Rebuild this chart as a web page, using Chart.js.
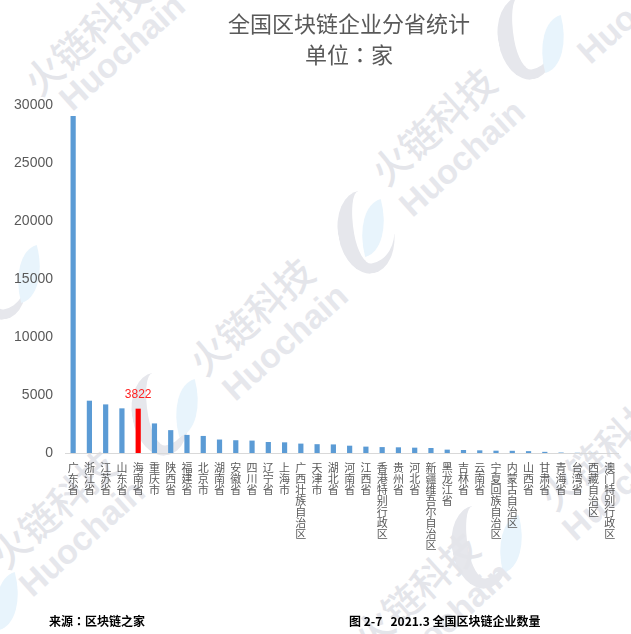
<!DOCTYPE html>
<html>
<head>
<meta charset="utf-8">
<script src="https://cdn.jsdelivr.net/npm/chart.js@4"></script>
<style>
  html, body { margin: 0; padding: 0; background: #fff; }
  #wrap { position: relative; width: 631px; height: 634px; overflow: hidden; font-family: "Noto Sans CJK SC", sans-serif; }
  #provChart { position: absolute; left: 0; top: 0; }
  .wm { position: absolute; white-space: nowrap; color: #e4e5ea; transform: translate(-50%, -50%) rotate(-42deg); }
  .wm.cn { font-size: 38px; font-weight: 500; font-family: "Noto Sans CJK SC", sans-serif; }
  .wm.en { font-size: 34px; font-weight: bold; font-family: "Liberation Sans", sans-serif; color: #e6e7ec; }
  .leaf { position: absolute; width: 30px; height: 52px; background: #e8f4fc; border-radius: 100% 0 100% 0; transform: rotate(-15deg); }
  .moon { position: absolute; width: 56px; height: 84px; border-radius: 50%; border-left: 16px solid #e6e7ec; border-bottom: 10px solid #e6e7ec; box-sizing: border-box; transform: rotate(-10deg); }
  .title { position: absolute; left: 149px; width: 400px; text-align: center; color: #595959; font-size: 22px; line-height: 30px; }
  .tc { font-family: "Noto Sans CJK TC", "Noto Sans CJK SC", sans-serif; }
  .foot { position: absolute; top: 612px; font-size: 12px; font-weight: bold; color: #000; white-space: nowrap; }
</style>
</head>
<body>
<div id="wrap">
  <div class="moon" style="left:498px;top:-4px"></div>
  <div class="leaf" style="left:538px;top:18px"></div>
  <div class="moon" style="left:338px;top:190px"></div>
  <div class="leaf" style="left:358px;top:202px"></div>
  <div class="moon" style="left:132px;top:372px"></div>
  <div class="leaf" style="left:172px;top:382px"></div>
  <div class="moon" style="left:-30px;top:236px"></div>
  <div class="leaf" style="left:14px;top:248px"></div>
  <div class="moon" style="left:452px;top:505px"></div>
  <div class="leaf" style="left:496px;top:518px"></div>
  <div class="leaf" style="left:-8px;top:575px"></div>

  <div class="wm cn" style="left:85px;top:35px">火链科技</div>
  <div class="wm en" style="left:122px;top:52px">Huochain</div>
  <div class="wm cn" style="left:432px;top:125px">火链科技</div>
  <div class="wm en" style="left:462px;top:158px">Huochain</div>
  <div class="wm cn" style="left:250px;top:315px">火链科技</div>
  <div class="wm en" style="left:285px;top:342px">Huochain</div>
  <div class="wm cn" style="left:52px;top:508px">火链科技</div>
  <div class="wm en" style="left:82px;top:538px">Huochain</div>
  <div class="wm cn" style="left:415px;top:590px">火链科技</div>
  <div class="wm en" style="left:448px;top:620px">Huochain</div>
  <div class="wm cn" style="left:600px;top:450px">火链科技</div>
  <div class="wm en" style="left:625px;top:482px">Huochain</div>
  <div class="wm en" style="left:640px;top:5px">Huochain</div>

  <canvas id="provChart" width="631" height="634"></canvas>

  <div class="title" style="top:7px">全国区块链企业分省统计</div>
  <div class="title tc" style="top:38px">单位：家</div>

  <div class="foot tc" style="left:49px">来源：区块链之家</div>
  <div class="foot" style="left:349px">图 2-7&nbsp;&nbsp;&nbsp;2021.3 全国区块链企业数量</div>
</div>

<script>
// 省份（按企业数量排序）
const provinces = [
    '广东省', '浙江省', '江苏省', '山东省', '海南省', '重庆市', '陕西省', '福建省',
    '北京市', '湖南省', '安徽省', '四川省', '辽宁省', '上海市', '广西壮族自治区', '天津市',
    '湖北省', '河南省', '江西省', '香港特别行政区', '贵州省', '河北省', '新疆维吾尔自治区',
    '黑龙江省', '吉林省', '云南省', '宁夏回族自治区', '内蒙古自治区', '山西省', '甘肃省',
    '青海省', '台湾省', '西藏自治区', '澳门特别行政区'
];

// 企业数量（家），除海南外均为读图估计
const companyCounts = [
    29050, 4510, 4190, 3850, 3822, 2550, 1970, 1560,
    1470, 1160, 1100, 1070, 950, 920, 810, 760,
    740, 630, 550, 510, 490, 460, 430,
    290, 260, 230, 200, 190, 160, 100,
    40, 20, 8, 3
];

const yTicks = [0, 5000, 10000, 15000, 20000, 25000, 30000];

// 需要突出显示的省份
const highlightProvince = '海南省';

const highlightIndex = provinces.indexOf(highlightProvince);
const barColors = provinces.map((p, i) => i === highlightIndex ? '#ff0000' : '#5b9bd5');

// 标签竖排：每个字一行
const verticalLabels = provinces.map(p => p.split(''));

const textGray = '#595959';

// 只在突出的柱子上方写数值
const highlightLabel = {
    id: 'highlightLabel',
    afterDatasetsDraw(chart) {
        const bar = chart.getDatasetMeta(0).data[highlightIndex];
        if (!bar) return;
        const c = chart.ctx;
        c.save();
        c.fillStyle = '#ff2020';
        c.font = '12px "Liberation Sans", sans-serif';
        c.textAlign = 'center';
        c.textBaseline = 'bottom';
        c.fillText(String(companyCounts[highlightIndex]), bar.x, bar.y - 8);
        c.restore();
    }
};

new Chart(document.getElementById('provChart').getContext('2d'), {
    type: 'bar',
    data: {
        labels: verticalLabels,
        datasets: [{
            data: companyCounts,
            backgroundColor: barColors,
            barPercentage: 0.32,
            categoryPercentage: 1
        }]
    },
    options: {
        responsive: false,
        animation: false,
        layout: {
            padding: { top: 105, left: 0, right: 13, bottom: 51 }
        },
        plugins: {
            legend: { display: false },
            tooltip: { enabled: false }
        },
        scales: {
            x: {
                grid: { display: false, drawTicks: false },
                border: { display: true, color: '#d9d9d9', width: 1 },
                ticks: {
                    color: textGray,
                    autoSkip: false,
                    maxRotation: 0,
                    minRotation: 0,
                    padding: 9,
                    font: { family: '"Noto Sans CJK SC", sans-serif', size: 11, lineHeight: 1 }
                },
                afterFit: (scale) => { scale.height = 130; }
            },
            y: {
                min: 0,
                max: 30000,
                grid: { display: false, drawTicks: false },
                border: { display: false },
                afterBuildTicks: (scale) => { scale.ticks = yTicks.map(v => ({ value: v })); },
                ticks: {
                    color: textGray,
                    padding: 12,
                    font: { family: '"Liberation Sans", sans-serif', size: 14 },
                    callback: (v) => String(v)
                },
                afterFit: (scale) => { scale.width = 65; }
            }
        }
    },
    plugins: [highlightLabel]
});
</script>
</body>
</html>
